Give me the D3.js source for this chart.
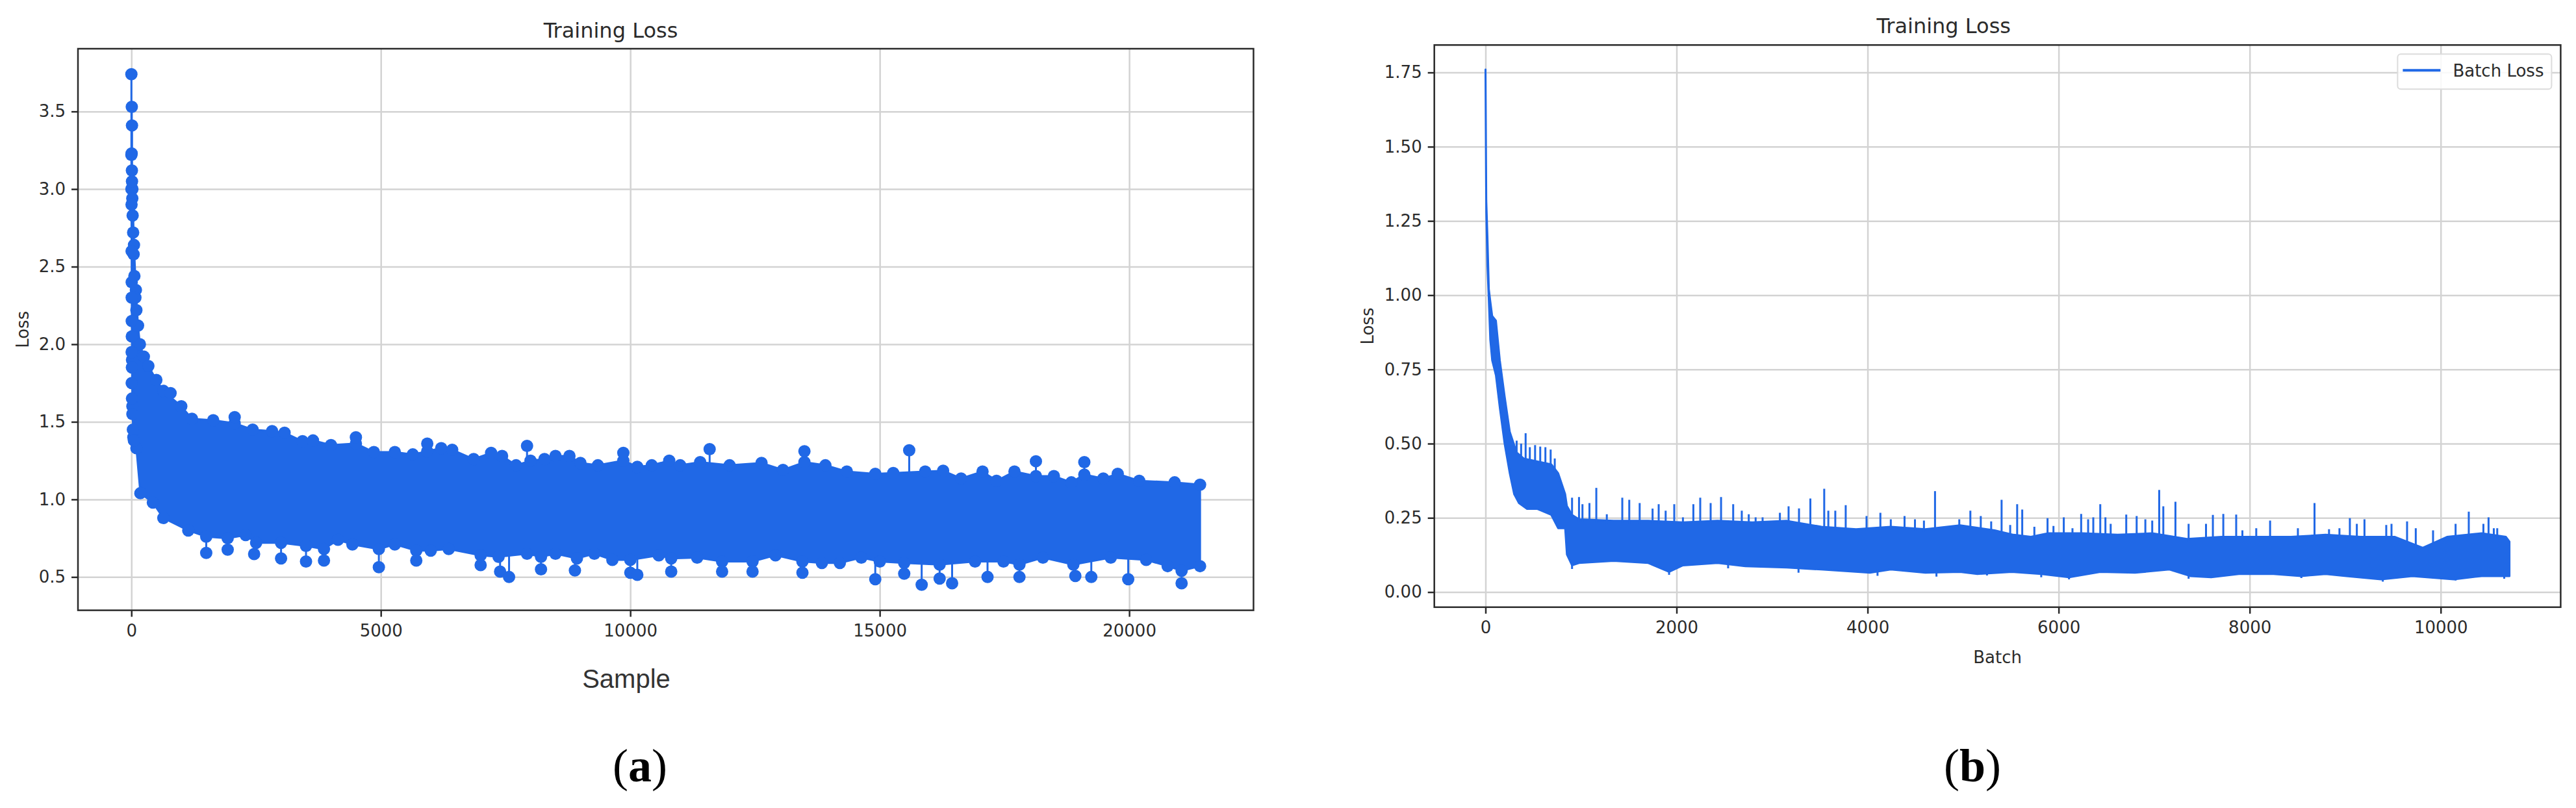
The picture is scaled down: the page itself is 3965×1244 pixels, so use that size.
<!DOCTYPE html>
<meta charset="utf-8">
<head>
<style>
body { margin: 0; background: #fff; }

.grid line {
  stroke: #d3d3d3;
  stroke-width: 2.5px;
}
.grid path { display: none; }

.axis path { display: none; }
.axis line { stroke: #2b2b2b; stroke-width: 2.5px; }
.axis text {
  font-family: "DejaVu Sans", sans-serif;
  font-size: 26px;
  fill: #2b2b2b;
}

.frame {
  fill: none;
  stroke: #2b2b2b;
  stroke-width: 2.5px;
}

.label {
  font-family: "DejaVu Sans", sans-serif;
  font-size: 26px;
  fill: #2b2b2b;
}
</style>
</head>

<body>

<!-- load the d3.js library -->
<script src="https://d3js.org/d3.v7.min.js"></script>

<script>

// ---------- panel (a): loss per sample ----------
var sampleTicks = [0, 5000, 10000, 15000, 20000];
var sampleLossTicks = [0.5, 1.0, 1.5, 2.0, 2.5, 3.0, 3.5];

// upper edge of the dense band of markers [sample, loss]
var sampleTop = [[0,3.22],[20,3.0],[52,2.64],[90,2.35],[133,2.12],[170,2.0],[250,1.92],[340,1.86],
  [500,1.77],[640,1.70],[1000,1.60],[1214,1.52],[1640,1.51],[2070,1.49],[2430,1.45],[2820,1.44],
  [3070,1.43],[3430,1.375],[3640,1.38],[4000,1.35],[4500,1.36],[4860,1.305],[5280,1.305],[5640,1.29],
  [5930,1.31],[6210,1.33],[6430,1.32],[6860,1.26],[7210,1.30],[7430,1.28],[7710,1.22],[8000,1.25],
  [8280,1.26],[8500,1.28],[8780,1.28],[9000,1.235],[9350,1.22],[9860,1.25],[10140,1.21],[10430,1.22],
  [10780,1.25],[11000,1.22],[11400,1.24],[11990,1.22],[12630,1.235],[13060,1.19],[13490,1.24],
  [13910,1.22],[14340,1.18],[14910,1.165],[15270,1.17],[15910,1.18],[16270,1.185],[16630,1.135],
  [17060,1.18],[17340,1.12],[17700,1.18],[18130,1.15],[18490,1.15],[18840,1.11],[19100,1.16],
  [19480,1.135],[19770,1.165],[20200,1.12],[20910,1.11],[21420,1.095]];

// lower edge of the band
var sampleBottom = [[0,3.0],[6,2.4],[12,1.9],[20,1.6],[40,1.40],[100,1.33],[180,1.04],[430,0.98],
  [640,0.88],[1140,0.80],[1500,0.76],[1930,0.75],[2290,0.77],[2500,0.72],[3000,0.72],[3500,0.70],
  [3860,0.68],[4140,0.74],[4430,0.71],[4960,0.68],[5280,0.71],[5710,0.67],[6000,0.67],[6360,0.68],
  [7000,0.64],[7360,0.63],[7930,0.65],[8210,0.63],[8500,0.65],[8930,0.62],[9280,0.65],[9640,0.61],
  [10000,0.61],[10570,0.64],[10820,0.62],[11340,0.625],[11840,0.60],[12450,0.60],[12910,0.64],
  [13450,0.60],[13840,0.59],[14200,0.59],[14630,0.625],[15000,0.60],[15490,0.59],[16200,0.58],
  [16910,0.60],[17480,0.60],[17800,0.58],[18270,0.625],[18880,0.58],[19630,0.625],[20340,0.61],
  [20770,0.57],[21050,0.54],[21420,0.57]];

// markers packed into the first few hundred samples (the tall column at x = 0)
var sampleEarly = [[5,3.23],[10,3.12],[12,3.05],[18,2.94],[25,2.83],[35,2.72],[45,2.58],[60,2.44],
  [80,2.30],[100,2.22],[110,2.12],[8,2.05],[5,1.95],[10,1.85],[6,1.75],[12,1.65],[20,1.55],
  [30,1.45],[50,1.38],[3,2.9],[4,2.6],[6,2.3],[7,2.15]];

// isolated markers above the band
var sampleHigh = [[0,3.74],[8,3.53],[12,3.41],[785,1.685],[2070,1.53],[4500,1.40],[5930,1.36],
  [7930,1.345],[9860,1.30],[11590,1.324],[13490,1.31],[15590,1.317],[18130,1.246],[19100,1.24]];

// isolated markers below the band
var sampleLow = [[1500,0.655],[1930,0.676],[2460,0.648],[3000,0.62],[3500,0.60],[3860,0.606],
  [4960,0.563],[5710,0.606],[7000,0.577],[7390,0.535],[7570,0.50],[8210,0.55],[8890,0.542],
  [10000,0.528],[10140,0.514],[10820,0.535],[11840,0.535],[12450,0.535],[13450,0.528],[14910,0.486],
  [15490,0.521],[15840,0.45],[16200,0.49],[16450,0.46],[17160,0.50],[17800,0.50],[18920,0.507],
  [19240,0.50],[19980,0.486],[21050,0.46]];

// ---------- panel (b): loss per batch ----------
var batchTicks = [0, 2000, 4000, 6000, 8000, 10000];
var batchLossTicks = [0, 0.25, 0.5, 0.75, 1.0, 1.25, 1.5, 1.75];

var batchTop = [[0,1.76],[8,1.32],[20,1.2],[35,1.02],[50,0.98],[70,0.93],[109,0.914],[150,0.78],
  [200,0.66],[254,0.54],[326,0.47],[400,0.45],[544,0.44],[689,0.43],[761,0.40],[834,0.33],[852,0.29],
  [906,0.26],[979,0.245],[1342,0.24],[1704,0.24],[2067,0.235],[2430,0.24],[2792,0.235],[3155,0.24],
  [3517,0.22],[3880,0.212],[4243,0.22],[4605,0.212],[4968,0.225],[5330,0.208],[5528,0.193],
  [5710,0.186],[5891,0.198],[6254,0.198],[6617,0.193],[6980,0.198],[7343,0.179],[7706,0.186],
  [8069,0.186],[8432,0.186],[8795,0.193],[9158,0.186],[9521,0.186],[9812,0.149],[10066,0.186],
  [10429,0.198],[10683,0.186],[10720,0.17]];

var batchBottom = [[0,1.74],[8,1.28],[20,1.1],[35,0.98],[50,0.85],[70,0.78],[109,0.73],[150,0.62],
  [200,0.5],[254,0.40],[300,0.33],[350,0.30],[435,0.28],[544,0.28],[689,0.26],[761,0.215],[834,0.215],
  [852,0.127],[906,0.09],[979,0.098],[1342,0.105],[1704,0.098],[1922,0.068],[2067,0.09],[2430,0.098],
  [2720,0.087],[3155,0.083],[3517,0.076],[4025,0.065],[4243,0.076],[4605,0.065],[4968,0.068],
  [5150,0.061],[5510,0.068],[5818,0.061],[6109,0.05],[6436,0.068],[6799,0.065],[7160,0.076],
  [7379,0.054],[7597,0.05],[7887,0.061],[8250,0.061],[8541,0.054],[8795,0.061],[9013,0.054],
  [9376,0.043],[9703,0.054],[10138,0.043],[10429,0.054],[10720,0.054]];

// single-batch spikes above the band [batch, loss]
var batchSpikes = [[326,0.51],[373,0.50],[420,0.535],[464,0.488],[519,0.495],[573,0.49],[627,0.488],
  [682,0.48],[725,0.45],[906,0.318],[979,0.32],[1015,0.296],[1088,0.30],[1160,0.351],[1270,0.262],
  [1432,0.318],[1505,0.311],[1614,0.300],[1749,0.281],[1813,0.296],[1886,0.274],[1976,0.296],
  [2067,0.252],[2176,0.296],[2248,0.318],[2357,0.300],[2466,0.320],[2593,0.296],[2683,0.274],
  [2756,0.262],[2828,0.252],[2901,0.252],[3082,0.267],[3173,0.289],[3282,0.282],[3401,0.315],
  [3546,0.348],[3589,0.274],[3662,0.274],[3771,0.293],[3989,0.256],[4134,0.267],[4243,0.245],
  [4387,0.256],[4496,0.245],[4590,0.241],[4706,0.340],[4960,0.245],[5076,0.274],[5185,0.256],
  [5294,0.238],[5403,0.311],[5493,0.226],[5566,0.296],[5619,0.278],[5746,0.22],[5884,0.249],
  [5946,0.223],[6054,0.252],[6145,0.215],[6236,0.263],[6309,0.245],[6363,0.252],[6436,0.296],
  [6490,0.252],[6545,0.23],[6708,0.261],[6817,0.256],[6908,0.245],[6980,0.241],[7053,0.344],
  [7096,0.289],[7223,0.304],[7361,0.23],[7543,0.23],[7615,0.26],[7724,0.263],[7859,0.261],
  [7924,0.208],[8069,0.215],[8214,0.241],[8505,0.215],[8679,0.30],[8831,0.212],[8940,0.215],
  [9049,0.249],[9122,0.23],[9202,0.245],[9430,0.226],[9485,0.23],[9648,0.238],[9739,0.215],
  [9920,0.208],[10156,0.230],[10294,0.271],[10447,0.23],[10501,0.252],[10556,0.215],[10592,0.215]];

// single-batch dips below the band
var batchDips = [[906,0.078],[1922,0.058],[2540,0.08],[3277,0.065],[4104,0.055],[4721,0.052],
  [5250,0.056],[5818,0.05],[6109,0.043],[7361,0.045],[8541,0.047],[9394,0.035],[10156,0.039],
  [10665,0.045]];

var blue = "#2068e6";

var svg = d3.select("body").append("svg")
    .attr("width", 3965)
    .attr("height", 1244);

// matplotlib style 5% padding round the data
function padded(values) {
  var ext = d3.extent(values);
  var pad = (ext[1] - ext[0]) * 0.05;
  return [ext[0] - pad, ext[1] + pad];
}

// band edge value at a given x (to hang a stem or spike off it)
var bisect = d3.bisector(function(d) { return d[0]; }).left;
function edgeAt(arr, v) {
  var i = bisect(arr, v);
  if (i <= 0) return arr[0][1];
  if (i >= arr.length) return arr[arr.length - 1][1];
  var a = arr[i - 1], b = arr[i];
  return a[1] + (v - a[0]) / (b[0] - a[0]) * (b[1] - a[1]);
}

function makePanel(opt) {
  var g = svg.append("g")
      .attr("transform", "translate(" + opt.left + "," + opt.top + ")");
  var w = opt.width, h = opt.height;

  var x = d3.scaleLinear().domain(opt.xDomain).range([0, w]);
  var y = d3.scaleLinear().domain(opt.yDomain).range([h, 0]);

  // gridlines
  g.append("g")
      .attr("class", "grid")
      .attr("transform", "translate(0," + h + ")")
      .call(d3.axisBottom(x).tickValues(opt.xTicks).tickSize(-h).tickFormat(""));
  g.append("g")
      .attr("class", "grid")
      .call(d3.axisLeft(y).tickValues(opt.yTicks).tickSize(-w).tickFormat(""));

  g.append("clipPath")
      .attr("id", opt.id + "-clip")
    .append("rect")
      .attr("width", w)
      .attr("height", h);

  var plot = g.append("g")
      .attr("clip-path", "url(#" + opt.id + "-clip)");

  // axes
  g.append("g")
      .attr("class", "axis")
      .attr("transform", "translate(0," + h + ")")
      .call(d3.axisBottom(x).tickValues(opt.xTicks).tickSize(10).tickPadding(12)
        .tickFormat(d3.format("d")));
  g.append("g")
      .attr("class", "axis")
      .call(d3.axisLeft(y).tickValues(opt.yTicks).tickSize(10).tickPadding(9)
        .tickFormat(d3.format(opt.yFormat)));

  g.append("rect")
      .attr("class", "frame")
      .attr("width", w)
      .attr("height", h);

  return {g: g, plot: plot, x: x, y: y, w: w, h: h};
}

function bandPath(p, top, bottom) {
  var pts = top.concat(bottom.slice().reverse());
  return d3.line()
      .x(function(d) { return p.x(d[0]); })
      .y(function(d) { return p.y(d[1]); })(pts) + "Z";
}

// ================= panel (a) =================
var a = makePanel({
  id: "a", left: 120, top: 75, width: 1809.4, height: 864.6,
  xDomain: padded(sampleTop.map(function(d) { return d[0]; })),
  yDomain: padded(sampleHigh.concat(sampleLow).map(function(d) { return d[1]; })),
  xTicks: sampleTicks, yTicks: sampleLossTicks, yFormat: ".1f"
});

a.plot.append("path")
    .attr("d", bandPath(a, sampleTop, sampleBottom))
    .attr("fill", blue)
    .attr("stroke", blue)
    .attr("stroke-width", 3);

// stems from the isolated markers back into the band
a.plot.selectAll(".stemHigh")
    .data(sampleHigh)
  .enter().append("line")
    .attr("x1", function(d) { return a.x(d[0]); })
    .attr("x2", function(d) { return a.x(d[0]); })
    .attr("y1", function(d) { return a.y(d[1]); })
    .attr("y2", function(d) { return a.y(edgeAt(sampleTop, d[0])); })
    .attr("stroke", blue)
    .attr("stroke-width", 3);

a.plot.selectAll(".stemLow")
    .data(sampleLow)
  .enter().append("line")
    .attr("x1", function(d) { return a.x(d[0]); })
    .attr("x2", function(d) { return a.x(d[0]); })
    .attr("y1", function(d) { return a.y(d[1]); })
    .attr("y2", function(d) { return a.y(edgeAt(sampleBottom, d[0])); })
    .attr("stroke", blue)
    .attr("stroke-width", 3);

// the round markers
a.plot.selectAll(".dot")
    .data(sampleTop.concat(sampleBottom, sampleEarly, sampleHigh, sampleLow))
  .enter().append("circle")
    .attr("cx", function(d) { return a.x(d[0]); })
    .attr("cy", function(d) { return a.y(d[1]); })
    .attr("r", 9.5)
    .attr("fill", blue);

a.g.append("text")
    .attr("class", "label")
    .attr("x", 820)
    .attr("y", -17)
    .attr("text-anchor", "middle")
    .style("font-size", "32px")
    .text("Training Loss");

a.g.append("text")
    .attr("class", "label")
    .attr("transform", "translate(-76," + (a.h / 2) + ") rotate(-90)")
    .attr("text-anchor", "middle")
    .text("Loss");

a.g.append("text")
    .attr("x", 844)
    .attr("y", 984)
    .attr("text-anchor", "middle")
    .style("font-family", "'Liberation Sans', Arial, sans-serif")
    .style("font-size", "40px")
    .style("fill", "#333")
    .text("Sample");

// ================= panel (b) =================
var b = makePanel({
  id: "b", left: 2207.7, top: 69.3, width: 1733.7, height: 865.5,
  xDomain: padded(batchTop.map(function(d) { return d[0]; })),
  yDomain: [-0.0508, 1.8425],
  xTicks: batchTicks, yTicks: batchLossTicks, yFormat: ".2f"
});

b.plot.append("path")
    .attr("d", bandPath(b, batchTop, batchBottom))
    .attr("fill", blue)
    .attr("stroke", blue)
    .attr("stroke-width", 3)
    .attr("stroke-linejoin", "round");

b.plot.selectAll(".spike")
    .data(batchSpikes)
  .enter().append("line")
    .attr("x1", function(d) { return b.x(d[0]); })
    .attr("x2", function(d) { return b.x(d[0]); })
    .attr("y1", function(d) { return b.y(d[1]); })
    .attr("y2", function(d) { return b.y(edgeAt(batchTop, d[0])) + 4; })
    .attr("stroke", blue)
    .attr("stroke-width", 3);

b.plot.selectAll(".dip")
    .data(batchDips)
  .enter().append("line")
    .attr("x1", function(d) { return b.x(d[0]); })
    .attr("x2", function(d) { return b.x(d[0]); })
    .attr("y1", function(d) { return b.y(d[1]); })
    .attr("y2", function(d) { return b.y(edgeAt(batchBottom, d[0])) - 4; })
    .attr("stroke", blue)
    .attr("stroke-width", 3);

b.g.append("text")
    .attr("class", "label")
    .attr("x", 784)
    .attr("y", -18)
    .attr("text-anchor", "middle")
    .style("font-size", "32px")
    .text("Training Loss");

b.g.append("text")
    .attr("class", "label")
    .attr("transform", "translate(-94," + (b.h / 2) + ") rotate(-90)")
    .attr("text-anchor", "middle")
    .text("Loss");

b.g.append("text")
    .attr("class", "label")
    .attr("x", b.w / 2)
    .attr("y", 952)
    .attr("text-anchor", "middle")
    .text("Batch");

// legend
var legend = b.g.append("g")
    .attr("transform", "translate(" + (b.w - 251) + ",14)");
legend.append("rect")
    .attr("width", 237)
    .attr("height", 54)
    .attr("rx", 5)
    .attr("fill", "#fff")
    .attr("fill-opacity", 0.85)
    .attr("stroke", "#dcdcdc")
    .attr("stroke-width", 2);
legend.append("line")
    .attr("x1", 8).attr("x2", 66)
    .attr("y1", 25).attr("y2", 25)
    .attr("stroke", blue)
    .attr("stroke-width", 4);
legend.append("text")
    .attr("class", "label")
    .attr("x", 85)
    .attr("y", 35)
    .text("Batch Loss");

// ================= sub-figure captions =================
function caption(cx, letter) {
  var t = svg.append("text")
      .attr("x", cx)
      .attr("y", 1203)
      .attr("text-anchor", "middle")
      .style("font-family", "'Liberation Serif', 'Times New Roman', serif")
      .style("font-size", "72px")
      .style("fill", "#000");
  t.append("tspan").text("(");
  t.append("tspan").style("font-weight", "bold").text(letter);
  t.append("tspan").text(")");
}
caption(985, "a");
caption(3036, "b");

</script>
</body>
